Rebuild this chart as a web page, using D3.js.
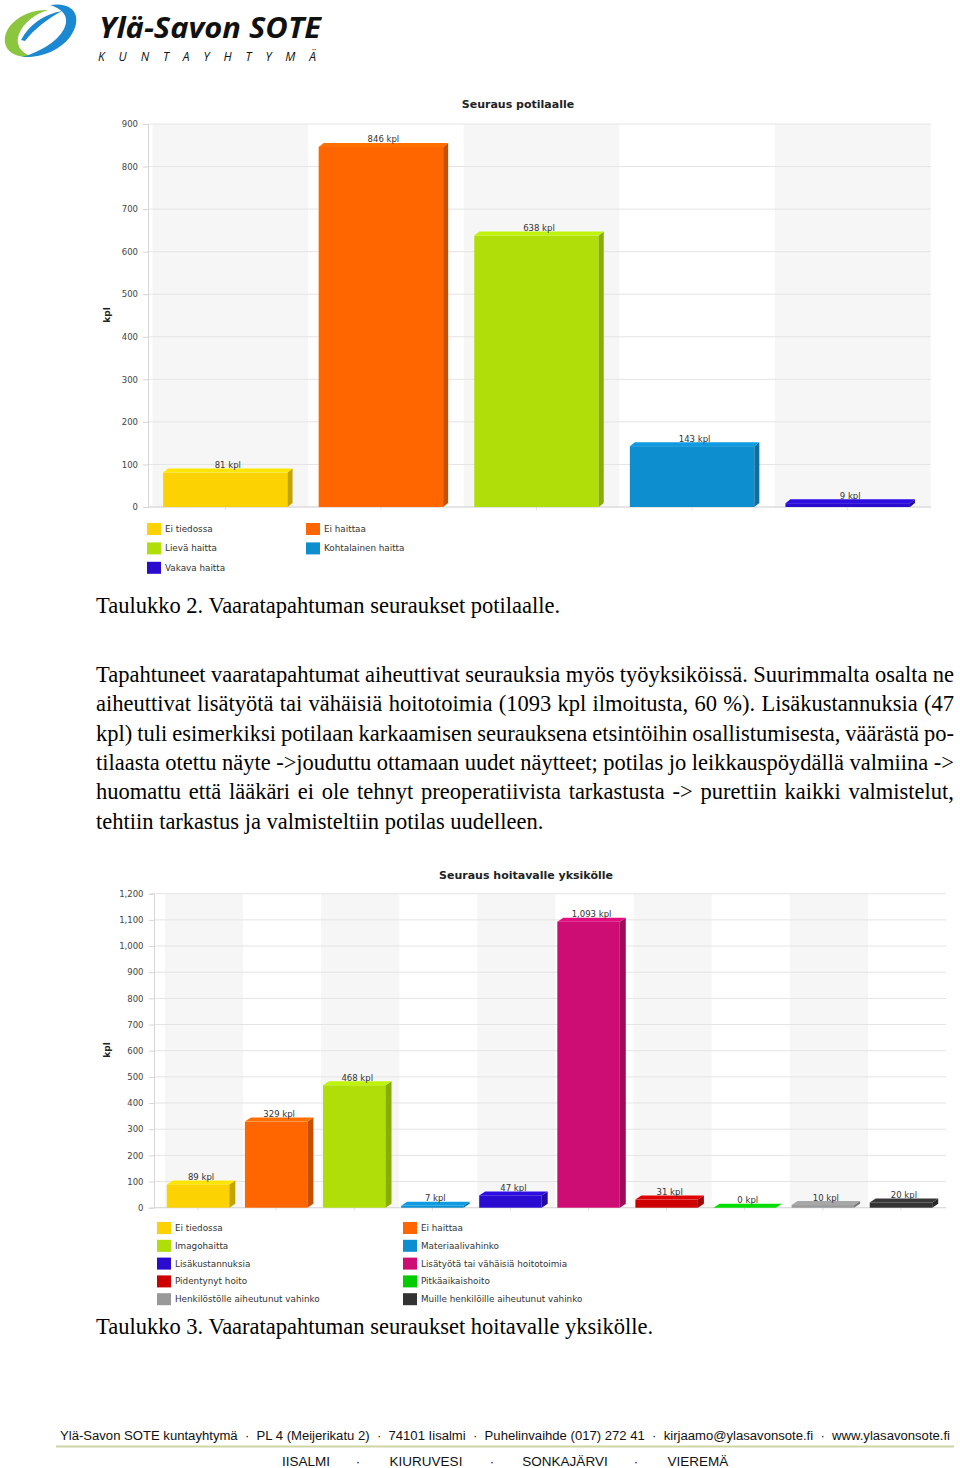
<!DOCTYPE html>
<html>
<head>
<meta charset="utf-8">
<script src="https://cdn.jsdelivr.net/npm/d3@7"></script>
<style>
  html, body { margin: 0; padding: 0; background: #fff; }
  svg { display: block; }
</style>
</head>
<body>
<script>
// ---------- DATA ----------
const cats1 = ["Ei tiedossa", "Ei haittaa", "Lievä haitta", "Kohtalainen haitta", "Vakava haitta"];
const vals1 = [81, 846, 638, 143, 9];
const colors1 = ["#FCD202", "#FF6600", "#B0DE09", "#0D8ECF", "#2A0CD0"];
const ticks1 = [0, 100, 200, 300, 400, 500, 600, 700, 800, 900];

const cats2 = ["Ei tiedossa", "Ei haittaa", "Imagohaitta", "Materiaalivahinko", "Lisäkustannuksia",
  "Lisätyötä tai vähäisiä hoitotoimia", "Pidentynyt hoito", "Pitkäaikaishoito",
  "Henkilöstölle aiheutunut vahinko", "Muille henkilöille aiheutunut vahinko"];
const vals2 = [89, 329, 468, 7, 47, 1093, 31, 0, 10, 20];
const colors2 = ["#FCD202", "#FF6600", "#B0DE09", "#0D8ECF", "#2A0CD0", "#CD0D74", "#CC0000", "#00CC00", "#999999", "#333333"];
const ticks2 = [0, 100, 200, 300, 400, 500, 600, 700, 800, 900, 1000, 1100, 1200];

const title1 = "Seuraus potilaalle";
const title2 = "Seuraus hoitavalle yksikölle";
const caption1 = "Taulukko 2. Vaaratapahtuman seuraukset potilaalle.";
const caption2 = "Taulukko 3. Vaaratapahtuman seuraukset hoitavalle yksikölle.";
const paragraphLines = [
  "Tapahtuneet vaaratapahtumat aiheuttivat seurauksia myös työyksiköissä. Suurimmalta osalta ne",
  "aiheuttivat lisätyötä tai vähäisiä hoitotoimia (1093 kpl ilmoitusta, 60 %). Lisäkustannuksia (47",
  "kpl) tuli esimerkiksi potilaan karkaamisen seurauksena etsintöihin osallistumisesta, väärästä po-",
  "tilaasta otettu näyte ->jouduttu ottamaan uudet näytteet; potilas jo leikkauspöydällä valmiina ->",
  "huomattu että lääkäri ei ole tehnyt preoperatiivista tarkastusta -> purettiin kaikki valmistelut,",
  "tehtiin tarkastus ja valmisteltiin potilas uudelleen."
];
const footerLine = "Ylä-Savon SOTE kuntayhtymä  ·  PL 4 (Meijerikatu 2)  ·  74101 Iisalmi  ·  Puhelinvaihde (017) 272 41  ·  kirjaamo@ylasavonsote.fi  ·  www.ylasavonsote.fi";
const footerTowns = ["IISALMI", "·", "KIURUVESI", "·", "SONKAJÄRVI", "·", "VIEREMÄ"];

// ---------- SVG ----------
const svg = d3.select("body").append("svg").attr("width", 960).attr("height", 1468);

// ---------- LOGO ----------
const logo = svg.append("g");
logo.append("path")
  .attr("d", "M 48 10 C 28 9, 8 21, 5 37 C 3 50, 14 58, 32 57 C 20 52, 15 44, 19 34 C 24 22, 35 14, 48 10 Z")
  .attr("fill", "#8cc63f");
logo.append("path")
  .attr("d", "M 50 5 C 74 1, 84 17, 70 37 C 60 50, 42 58, 22 57 C 40 52, 57 42, 64 29 C 70 17, 63 9, 50 5 Z")
  .attr("fill", "#1b88d2");
logo.append("path")
  .attr("d", "M 21 40 C 29 25, 44 14, 62 11 C 49 18, 35 28, 25 41 Z")
  .attr("fill", "#1b88d2");
logo.append("text").attr("x", 99).attr("y", 38)
  .attr("font-family", "Open Sans, Noto Sans, sans-serif").attr("font-weight", "bold").attr("font-style", "italic")
  .attr("font-size", 28).attr("fill", "#111")
  .attr("textLength", 222).attr("lengthAdjust", "spacingAndGlyphs")
  .text("Ylä-Savon SOTE");
logo.append("text").attr("x", 98).attr("y", 61)
  .attr("font-family", "Open Sans, Noto Sans, sans-serif").attr("font-style", "italic")
  .attr("font-size", 12).attr("fill", "#111")
  .attr("textLength", 218).attr("lengthAdjust", "spacing")
  .text("KUNTAYHTYMÄ");

// ---------- CHART FUNCTION ----------
function drawChart(cfg) {
  const g = svg.append("g");
  const x = d3.scaleBand().domain(cfg.cats).range([cfg.x0, cfg.x1]).paddingInner(0.2).paddingOuter(0.1);
  const y = d3.scaleLinear().domain([0, cfg.max]).range([cfg.yBot, cfg.yTop]);
  const step = x.step();
  const bw = x.bandwidth();

  // alternating bands
  g.append("g").selectAll("rect").data(cfg.cats.filter((d, i) => i % 2 === 0)).join("rect")
    .attr("x", d => x(d) - step * 0.1 + cfg.dx)
    .attr("y", y(cfg.max))
    .attr("width", step)
    .attr("height", y(0) - y(cfg.max))
    .attr("fill", "#f6f6f6");

  // grid lines
  g.append("g").selectAll("line").data(cfg.ticks).join("line")
    .attr("x1", cfg.axisX).attr("x2", cfg.gridRight)
    .attr("y1", d => y(d)).attr("y2", d => y(d))
    .attr("stroke", "#e4e4e4").attr("stroke-width", 1);

  // x bottom ticks
  g.append("g").selectAll("line").data(cfg.cats).join("line")
    .attr("x1", d => x(d) + bw / 2).attr("x2", d => x(d) + bw / 2)
    .attr("y1", y(0)).attr("y2", y(0) + 3)
    .attr("stroke", "#dddddd");
  g.append("line").attr("x1", cfg.axisX).attr("x2", cfg.gridRight)
    .attr("y1", y(0)).attr("y2", y(0)).attr("stroke", "#d8d8d8");

  // y axis
  const axis = d3.axisLeft(y).tickValues(cfg.ticks).tickSize(5).tickPadding(cfg.tickPad)
    .tickFormat(cfg.fmt);
  const ag = g.append("g").attr("transform", `translate(${cfg.axisX},0)`).call(axis);
  ag.select(".domain").attr("stroke", "#d6d6d6");
  ag.selectAll(".tick line").attr("stroke", "#d6d6d6");
  ag.selectAll(".tick text").attr("font-family", "DejaVu Sans, Verdana, sans-serif")
    .attr("font-size", 8.5).attr("fill", "#444");

  // y axis title
  g.append("text")
    .attr("transform", `translate(${cfg.kplX},${cfg.kplY}) rotate(-90)`)
    .attr("text-anchor", "middle").attr("dy", "0.35em")
    .attr("font-family", "DejaVu Sans, Verdana, sans-serif").attr("font-weight", "bold")
    .attr("font-size", 9).attr("fill", "#222").text("kpl");

  // title
  g.append("text").attr("x", cfg.titleX).attr("y", cfg.titleY)
    .attr("text-anchor", "middle")
    .attr("font-family", "DejaVu Sans, Verdana, sans-serif").attr("font-weight", "bold")
    .attr("font-size", 11).attr("fill", "#222").text(cfg.title);

  // bars (3D)
  const data = cfg.cats.map((c, i) => ({ c, v: cfg.vals[i], col: cfg.colors[i] }));
  const bars = g.append("g").selectAll("g").data(data).join("g");
  const dx = cfg.dx, dy = cfg.dy;
  bars.append("rect")
    .attr("x", d => x(d.c)).attr("y", d => y(d.v))
    .attr("width", bw).attr("height", d => y(0) - y(d.v))
    .attr("fill", d => d.col);
  bars.append("path")
    .attr("d", d => {
      const xr = x(d.c) + bw, yt = y(d.v), yb = y(0);
      return `M${xr},${yb} L${xr + dx},${yb - dy} L${xr + dx},${yt - dy} L${xr},${yt} Z`;
    })
    .attr("fill", d => d3.color(d.col).darker(0.7));
  bars.append("path")
    .attr("d", d => {
      const xl = x(d.c), xr = xl + bw, yt = y(d.v);
      return `M${xl},${yt} L${xl + dx},${yt - dy} L${xr + dx},${yt - dy} L${xr},${yt} Z`;
    })
    .attr("fill", d => d3.color(d.col).brighter(0.25));
  bars.append("text")
    .attr("x", d => x(d.c) + bw / 2 + dx / 2)
    .attr("y", d => y(d.v) - dy - 0.5)
    .attr("text-anchor", "middle")
    .attr("font-family", "DejaVu Sans, Verdana, sans-serif")
    .attr("font-size", 8.5).attr("fill", "#333")
    .text(d => cfg.fmt(d.v) + " kpl");

  // legend (row-major, 2 columns)
  const lg = g.append("g").selectAll("g").data(data).join("g")
    .attr("transform", (d, i) => `translate(${cfg.legX[i % 2]},${cfg.legY0 + Math.floor(i / 2) * cfg.legDY})`);
  lg.append("rect").attr("x", 0).attr("y", -6).attr("width", 14).attr("height", 12).attr("fill", d => d.col);
  lg.append("text").attr("x", cfg.legTextDX).attr("y", 0).attr("dy", "0.35em")
    .attr("font-family", "DejaVu Sans, Verdana, sans-serif")
    .attr("font-size", 8.8).attr("fill", "#333").text(d => d.c);
}

drawChart({
  cats: cats1, vals: vals1, colors: colors1, ticks: ticks1, max: 900,
  fmt: d3.format(","),
  x0: 147.5, x1: 925.5, yTop: 124, yBot: 507, axisX: 148, gridRight: 931, tickPad: 5,
  dx: 5, dy: 4,
  kplX: 107, kplY: 315, title: title1, titleX: 518, titleY: 108,
  legX: [147, 306], legY0: 529, legDY: 19.4, legTextDX: 18
});

drawChart({
  cats: cats2, vals: vals2, colors: colors2, ticks: ticks2, max: 1200,
  fmt: d3.format(","),
  x0: 159, x1: 940, yTop: 893.7, yBot: 1207.7, axisX: 154, gridRight: 946, tickPad: 5.5,
  dx: 6, dy: 4,
  kplX: 107, kplY: 1050, title: title2, titleX: 526, titleY: 879,
  legX: [157, 403], legY0: 1228, legDY: 17.8, legTextDX: 18
});

// ---------- BODY TEXT ----------
const serif = "Liberation Serif, Times New Roman, serif";
const fsBody = 22.5;
svg.append("text").attr("x", 96).attr("y", 613).attr("font-family", serif).attr("font-size", fsBody)
  .attr("fill", "#000").text(caption1);
svg.append("text").attr("x", 96).attr("y", 1334).attr("font-family", serif).attr("font-size", fsBody)
  .attr("fill", "#000").text(caption2);

// justified paragraph
const para = svg.append("g");
const measurer = svg.append("text").attr("font-family", serif).attr("font-size", fsBody).attr("visibility", "hidden");
function wlen(s) { measurer.text(s); return measurer.node().getComputedTextLength(); }
const spaceW = wlen("a a") - wlen("aa");
const parX0 = 96, parX1 = 954;
paragraphLines.forEach((line, li) => {
  const yb = 682 + li * 29.3;
  const words = line.split(" ");
  const widths = words.map(wlen);
  const total = d3.sum(widths);
  const last = li === paragraphLines.length - 1;
  const gap = last ? spaceW : (parX1 - parX0 - total) / (words.length - 1);
  let cx = parX0;
  words.forEach((w, wi) => {
    para.append("text").attr("x", cx).attr("y", yb).attr("font-family", serif).attr("font-size", fsBody)
      .attr("fill", "#000").text(w);
    cx += widths[wi] + gap;
  });
});
measurer.remove();

// ---------- FOOTER ----------
const narrow = "Liberation Sans Narrow, Arial Narrow, Liberation Sans, Arial, sans-serif";
svg.append("text").attr("x", 60).attr("y", 1440).attr("font-family", narrow).attr("font-size", 12.5)
  .attr("fill", "#111").attr("textLength", 890).attr("lengthAdjust", "spacingAndGlyphs")
  .attr("xml:space", "preserve").style("white-space", "pre")
  .text(footerLine);
svg.append("line").attr("x1", 56).attr("x2", 954).attr("y1", 1446.5).attr("y2", 1446.5)
  .attr("stroke", "#cdd5a5").attr("stroke-width", 2);
const townX = [306, 358, 426, 492, 565, 636, 698];
svg.append("g").selectAll("text").data(footerTowns).join("text")
  .attr("x", (d, i) => townX[i]).attr("y", 1466).attr("text-anchor", "middle")
  .attr("font-family", narrow).attr("font-size", 13.5).attr("fill", "#111")
  .text(d => d);
</script>
</body>
</html>
